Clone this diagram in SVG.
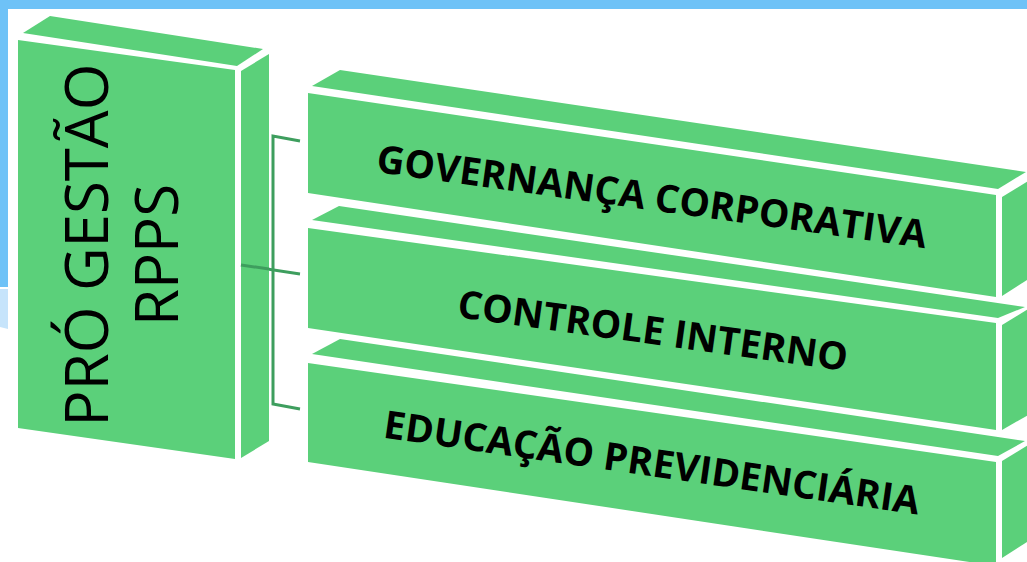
<svg xmlns="http://www.w3.org/2000/svg" width="1027" height="562" viewBox="0 0 1027 562">
  <style>
    .face { fill: #5BD07A; }
    .lbl { font-family: "Open Sans", "Liberation Sans", sans-serif; font-weight: 700; font-size: 38.5px; fill: #000; text-anchor: middle; }
    .vlbl { font-family: "Open Sans", "Liberation Sans", sans-serif; font-weight: 400; font-size: 60px; fill: #000; text-anchor: middle; }
    .conn { fill: none; stroke: #3E9E5E; stroke-width: 3; }
  </style>
  <rect x="0" y="0" width="1027" height="562" fill="#FFFFFF"/>
  <rect x="0" y="0" width="1027" height="9" fill="#6EC2F7"/>
  <rect x="0" y="0" width="8" height="287" fill="#6EC2F7"/>
  <polygon points="0,289 8,289 8,329 0,327" fill="#C6E4FB"/>

  <g id="connectors">
    <polyline class="conn" points="300,141 273,136 273,404 300,409"/>
    <line class="conn" x1="241" y1="265" x2="300" y2="274"/>
  </g>

  <g id="node-pro-gestao">
    <polygon class="face" points="23,33 50,16 263,49 237,66"/>
    <polygon class="face" points="18,40 235,70 235,459 18,428"/>
    <polygon class="face" points="241,71 269,54 269,441 241,458"/>
    <text class="vlbl" transform="translate(108,245) rotate(-90)">PRÓ GESTÃO</text>
    <text class="vlbl" transform="translate(178,255) rotate(-90)">RPPS</text>
    <line class="conn" x1="241" y1="265" x2="269" y2="269"/>
  </g>

  <g id="node-governanca">
    <polygon class="face" points="312,86 340,70 1026,172 998,189"/>
    <polygon class="face" points="308,93 996,195 996,297 308,193"/>
    <polygon class="face" points="1002,197 1030,180 1030,278 1002,296"/>
    <text class="lbl" transform="translate(650,210) rotate(7.9)">GOVERNANÇA CORPORATIVA</text>
  </g>

  <g id="node-controle">
    <polygon class="face" points="312,220 339,206 1025,307 998,318"/>
    <polygon class="face" points="308,228 996,323 996,430 308,328"/>
    <polygon class="face" points="1002,325 1030,308 1030,414 1002,430"/>
    <text class="lbl" transform="translate(651,344) rotate(7.9)">CONTROLE INTERNO</text>
  </g>

  <g id="node-educacao">
    <polygon class="face" points="312,354 340,339 1025,441 998,456"/>
    <polygon class="face" points="308,363 996,462 996,566 308,462"/>
    <polygon class="face" points="1002,461 1030,444 1030,540 1002,558"/>
    <text class="lbl" transform="translate(650,476) rotate(8.2)">EDUCAÇÃO PREVIDENCIÁRIA</text>
  </g>
</svg>
